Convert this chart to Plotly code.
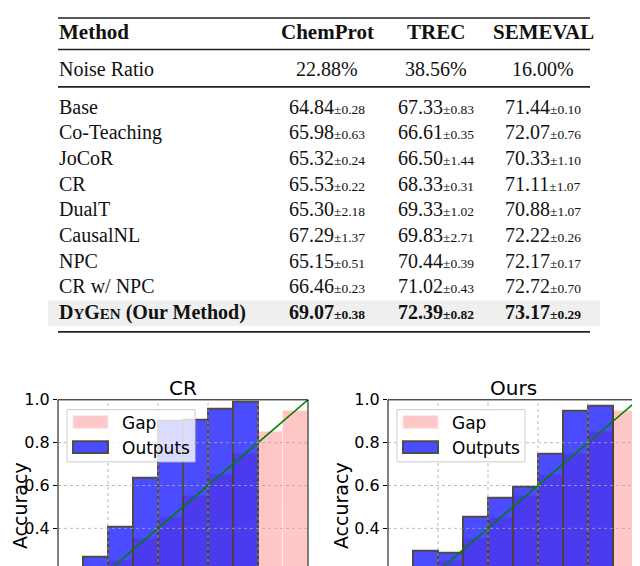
import plotly.graph_objects as go

# table data
datasets = ['ChemProt', 'TREC', 'SEMEVAL']
noise_ratio = ['22.88%', '38.56%', '16.00%']
methods = ['Base', 'Co-Teaching', 'JoCoR', 'CR', 'DualT', 'CausalNL', 'NPC', 'CR w/ NPC',
           'D<span style="font-size:15px">Y</span>G<span style="font-size:15px">EN</span> (Our Method)']
chemprot_mean = ['64.84', '65.98', '65.32', '65.53', '65.30', '67.29', '65.15', '66.46', '69.07']
chemprot_std = ['0.28', '0.63', '0.24', '0.22', '2.18', '1.37', '0.51', '0.23', '0.38']
trec_mean = ['67.33', '66.61', '66.50', '68.33', '69.33', '69.83', '70.44', '71.02', '72.39']
trec_std = ['0.83', '0.35', '1.44', '0.31', '1.02', '2.71', '0.39', '0.43', '0.82']
semeval_mean = ['71.44', '72.07', '70.33', '71.11', '70.88', '72.22', '72.17', '72.72', '73.17']
semeval_std = ['0.10', '0.76', '1.10', '1.07', '1.07', '0.26', '0.17', '0.70', '0.29']

# reliability diagram data (10 bins)
bin_centers = [0.05, 0.15, 0.25, 0.35, 0.45, 0.55, 0.65, 0.75, 0.85, 0.95]
cr_outputs = [0.0, 0.265, 0.405, 0.635, 0.90, 0.907, 0.956, 0.99, 0.0, 0.0]
cr_gap = [0.05, 0.15, 0.25, 0.35, 0.45, 0.55, 0.65, 0.75, 0.85, 0.95]
ours_outputs = [0.0, 0.297, 0.285, 0.452, 0.544, 0.593, 0.750, 0.948, 0.971, 0.0]
ours_gap = [0.05, 0.15, 0.25, 0.35, 0.45, 0.55, 0.65, 0.75, 0.85, 0.95]
y_ticks = [0.2, 0.4, 0.6, 0.8, 1.0]

W, H = 640, 566
OX, OY = 8, 8  # page body margin


def px(x):
    return (x - OX) / W


def py(y):
    return 1 - (y - OY) / H


serif = 'Liberation Serif'
sans = 'DejaVu Sans'
shapes = []
annotations = []

# ---- table ----
col_x = [327, 436, 543]
row_y = [99, 125.1, 151.2, 177.3, 203.4, 229.5, 255.6, 281.7, 307.8]

shapes.append(dict(type='rect', xref='paper', yref='paper', x0=px(48), x1=px(600),
                   y0=py(322), y1=py(296), fillcolor='#efefef', line=dict(width=0), layer='below'))
for yy in [9, 41, 79, 328]:
    shapes.append(dict(type='line', xref='paper', yref='paper', x0=px(58), x1=px(590),
                       y0=py(yy), y1=py(yy), line=dict(color='#222', width=1.6)))


def txt(x, y, s, size=20, anchor='center', font=serif, color='#111'):
    a = dict(x=px(x), y=py(y), xref='paper', yref='paper', text=s,
             showarrow=False, xanchor=anchor, yanchor='middle', borderpad=0,
             font=dict(family=font, size=size, color=color))
    if anchor == 'left':
        a.update(width=230, align='left')
    annotations.append(a)


txt(58, 23, '<b>Method</b>', size=21, anchor='left')
for cx, d in zip(col_x, datasets):
    txt(cx, 23, '<b>%s</b>' % d, size=21)
txt(58, 61, 'Noise Ratio', anchor='left')
for cx, n in zip(col_x, noise_ratio):
    txt(cx, 61, n)

for i, m in enumerate(methods):
    last = i == len(methods) - 1
    txt(58, row_y[i], '<b>%s</b>' % m if last else m, anchor='left')
    for cx, mean, std in zip(col_x, [chemprot_mean, trec_mean, semeval_mean],
                             [chemprot_std, trec_std, semeval_std]):
        s = '%s<span style="font-size:13.5px">±%s</span>' % (mean[i], std[i])
        txt(cx, row_y[i], '<b>%s</b>' % s if last else s)

# ---- reliability diagrams ----
y_lo = 1 - (574 - 397) / 217.7
top_dom = py(397)
panels = [('CR', cr_outputs, cr_gap, '', 58, 20), ('Ours', ours_outputs, ours_gap, '2', 388, 341)]

data = []
layout = dict(width=W, height=H, margin=dict(l=0, r=0, t=0, b=0),
              paper_bgcolor='white', plot_bgcolor='white', showlegend=False,
              barmode='overlay', bargap=0)

for name, outputs, gap, k, left, lab_x in panels:
    xa, ya = 'x' + k, 'y' + k
    data.append(go.Bar(x=bin_centers, y=gap, width=0.1, xaxis=xa, yaxis=ya, name='Gap',
                       marker=dict(color='rgba(255,0,0,0.22)',
                                   line=dict(color='rgba(255,235,235,0.9)', width=1))))
    data.append(go.Bar(x=bin_centers, y=outputs, width=0.1, xaxis=xa, yaxis=ya, name='Outputs',
                       opacity=0.7, marker=dict(color='blue', line=dict(color='black', width=2))))
    data.append(go.Scatter(x=[0, 1], y=[0, 1], mode='lines', xaxis=xa, yaxis=ya,
                           line=dict(color='green', width=1.6), hoverinfo='skip'))

    layout['xaxis' + k] = dict(domain=[px(left), px(left + 250)], range=[0, 1], anchor=ya,
                               showticklabels=False, showgrid=False, zeroline=False, ticks='')
    layout['yaxis' + k] = dict(domain=[0, top_dom], range=[y_lo, 1.0], anchor=xa,
                               tickvals=y_ticks, ticktext=['%.1f' % v for v in y_ticks],
                               ticks='outside', ticklen=4, tickcolor='black',
                               tickfont=dict(family=sans, size=16, color='black'),
                               showgrid=False, zeroline=False)

    # dotted grid drawn over the bars
    for g in [0.2, 0.4, 0.6, 0.8]:
        shapes.append(dict(type='line', xref=xa, yref=ya + ' domain', x0=g, x1=g, y0=0, y1=1,
                           line=dict(color='rgba(170,170,170,0.8)', width=1, dash='dot'), layer='above'))
        shapes.append(dict(type='line', xref=xa + ' domain', yref=ya, x0=0, x1=1, y0=g, y1=g,
                           line=dict(color='rgba(170,170,170,0.8)', width=1, dash='dot'), layer='above'))
    shapes.append(dict(type='rect', xref=xa + ' domain', yref=ya + ' domain', x0=0, x1=1,
                       y0=-0.1, y1=1, line=dict(color='black', width=1), layer='above'))

    # title and axis label
    txt(left + 125, 385, name, size=20, font=sans, color='black')
    annotations.append(dict(x=px(lab_x), y=py(505), xref='paper', yref='paper',
                            text='Accuracy', textangle=-90, showarrow=False,
                            xanchor='center', yanchor='middle', borderpad=0,
                            font=dict(family=sans, size=19, color='black')))

    # legend box
    shapes.append(dict(type='rect', xref='paper', yref='paper', x0=px(left + 9), x1=px(left + 137),
                       y0=py(460), y1=py(407), fillcolor='rgba(255,255,255,0.8)',
                       line=dict(color='#cccccc', width=1), layer='above'))
    shapes.append(dict(type='rect', xref='paper', yref='paper', x0=px(left + 15), x1=px(left + 50),
                       y0=py(426), y1=py(413), fillcolor='#ffc8c8',
                       line=dict(color='#ffe4e4', width=1), layer='above'))
    shapes.append(dict(type='rect', xref='paper', yref='paper', x0=px(left + 15), x1=px(left + 50),
                       y0=py(451), y1=py(439), fillcolor='#4b4bff',
                       line=dict(color='#4d4d4d', width=2), layer='above'))
    txt(left + 63, 421, 'Gap', size=17, anchor='left', font=sans, color='black')
    txt(left + 63, 446, 'Outputs', size=17, anchor='left', font=sans, color='black')

layout['shapes'] = shapes
layout['annotations'] = annotations

fig = go.Figure(data=data, layout=layout)
fig.write_html('out.html')
